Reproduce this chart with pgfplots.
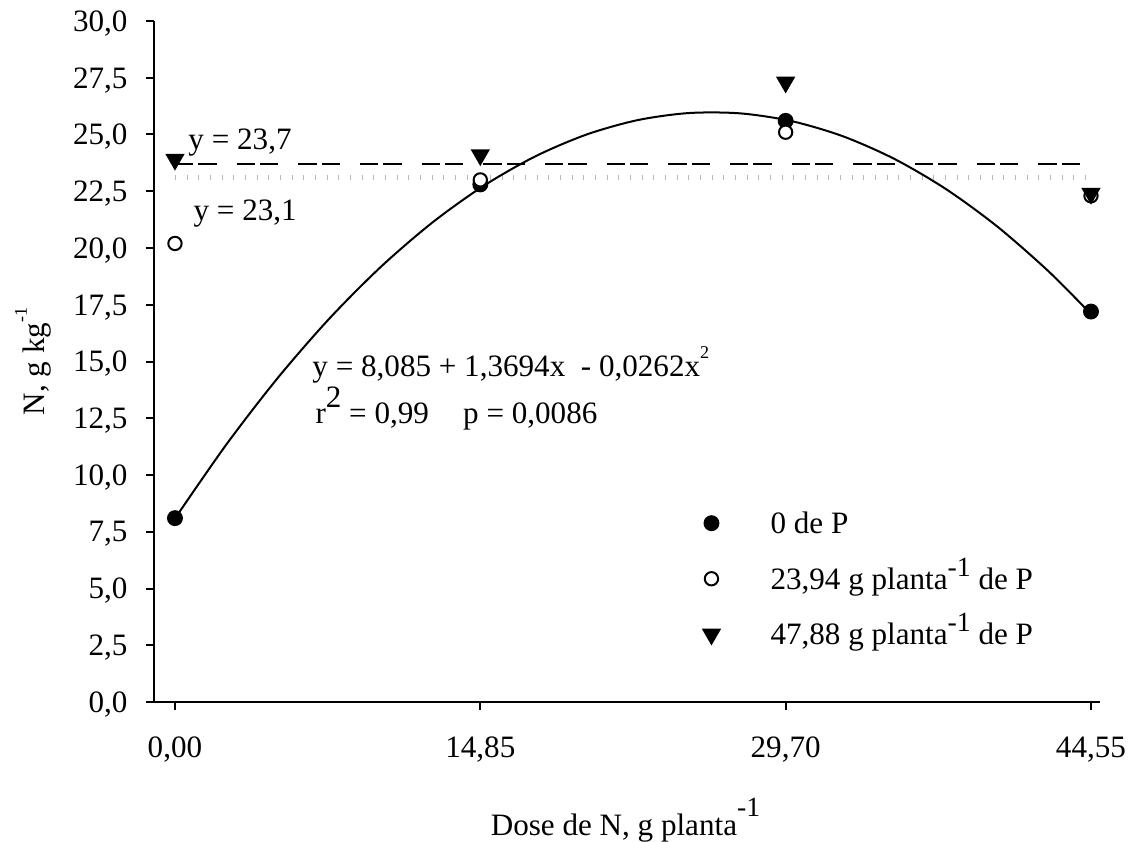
\documentclass[border=0pt]{standalone}
\usepackage{pgfplots}
\pgfplotsset{compat=1.18}
\usepackage{fontspec}
\setmainfont{Liberation Serif}
\begin{document}
\fontsize{11.2}{13.4}\selectfont
\begin{tikzpicture}
\path[use as bounding box] (-55.44pt,-50.04pt) rectangle (352.8pt,252.72pt);
\begin{axis}[
  at={(0pt,0pt)}, anchor=south west,
  scale only axis, width=340.56pt, height=245.16pt,
  xmin=-1.02, xmax=44.99, ymin=0, ymax=30,
  axis x line*=bottom, axis y line*=left,
  axis line style={line width=0.72pt, -},
  tick align=outside, major tick length=2.9pt,
  tick style={line width=0.72pt, black},
  xtick={0,14.85,29.70,44.55},
  xticklabels={{0,00},{14,85},{29,70},{44,55}},
  ytick={0,2.5,5,7.5,10,12.5,15,17.5,20,22.5,25,27.5,30},
  yticklabels={{0,0},{2,5},{5,0},{7,5},{10,0},{12,5},{15,0},{17,5},{20,0},{22,5},{25,0},{27,5},{30,0}},
  xticklabel style={anchor=base, yshift=-16.9pt},
  yticklabel style={xshift=-2.7pt, text depth=0pt},
  clip=false,
  legend cell align=left,
  legend style={draw=none, fill=none, inner sep=0pt,
    at={(axis cs:25.68,8.66)}, anchor=north west, row sep=7.6pt,
    nodes={inner sep=0pt, text height=9.9pt, text depth=2.5pt},
    /tikz/every odd column/.append style={column sep=18.4pt}},
  legend image code/.code={\draw[#1] plot coordinates {(0pt,0pt)};},
]
% mean lines
\addplot[forget plot, color={rgb,255:red,185;green,185;blue,185}, line width=1.8pt, dash pattern=on 0.4pt off 3.8pt] coordinates {(0,23.1) (44.55,23.1)};
\addplot[forget plot, black, line width=0.72pt, dash pattern=on 6.6pt off 1.8pt on 6.6pt off 7.2pt] coordinates {(0,23.7) (44.55,23.7)};
% fitted curve (points of y = 8.085 + 1.3694x - 0.0262x^2)
\addplot[forget plot, black, line width=0.72pt, smooth] coordinates {
(0,8.085) (2.5,11.345) (5,14.277) (7.5,16.882) (10,19.159) (12.5,21.109)
(15,22.731) (17.5,24.026) (20,24.993) (22.5,25.633) (25,25.945) (27.5,25.930)
(30,25.587) (32.5,24.917) (35,23.919) (37.5,22.594) (40,20.941) (42.5,18.961) (44.55,17.09)};
% data
\addplot[only marks, mark=*, mark size=2.5pt, mark options={fill=black, draw=black, line width=0.72pt}] coordinates {(0,8.1) (14.85,22.8) (29.70,25.6) (44.55,17.2)};
\addlegendentry{0 de P}
\addplot[only marks, mark=*, mark size=2.4pt, mark options={fill=white, draw=black, line width=0.72pt}] coordinates {(0,20.2) (14.85,23.0) (29.70,25.1) (44.55,22.3)};
\addlegendentry{23,94 g planta\raisebox{4.6pt}{\fontsize{10}{10}\selectfont -1} de P}
\addplot[only marks, mark=triangle*, mark size=3.3pt, mark options={rotate=180, fill=black, draw=black, line width=0.72pt}] coordinates {(0,23.9) (14.85,24.1) (29.70,27.3) (44.55,22.4)};
\addlegendentry{47,88 g planta\raisebox{4.6pt}{\fontsize{10}{10}\selectfont -1} de P}
% annotations
\node[anchor=base west, inner sep=0pt] at (axis cs:0.63,24.32) {y = 23,7};
\node[anchor=base west, inner sep=0pt] at (axis cs:0.88,21.23) {y = 23,1};
\node[anchor=base west, inner sep=0pt] at (axis cs:6.66,14.32) {y = 8,085 + 1,3694x\ \ - 0,0262x\raisebox{6.8pt}{\fontsize{6.5}{6.5}\selectfont 2}};
\node[anchor=base west, inner sep=0pt] at (axis cs:6.81,12.29) {r\raisebox{5.5pt}{2} = 0,99\hspace{12.3pt}p = 0,0086};
\end{axis}
\node[rotate=90, anchor=base, inner sep=0pt] at (-39.24pt,122.58pt) {N, g kg\raisebox{6.5pt}{\fontsize{6.5}{6.5}\selectfont -1}};
\node[anchor=base, inner sep=0pt] at (169.74pt,-47.88pt) {Dose de N, g planta\raisebox{6.6pt}{\fontsize{10}{10}\selectfont -1}};
\end{tikzpicture}
\end{document}
